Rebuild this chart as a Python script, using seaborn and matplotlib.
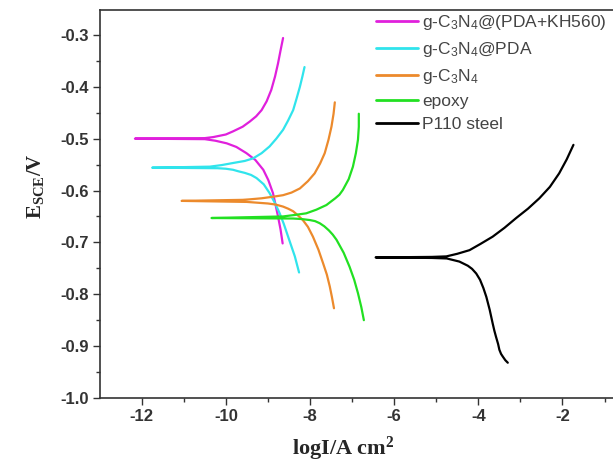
import numpy as np
import pandas as pd
import seaborn as sns
import matplotlib
matplotlib.use("Agg")
import matplotlib.pyplot as plt
from matplotlib.ticker import MultipleLocator

# ---- data ----
labels = ["g-C$_\\mathregular{3}$N$_\\mathregular{4}$@(PDA+KH560)",
          "g-C$_\\mathregular{3}$N$_\\mathregular{4}$@PDA",
          "g-C$_\\mathregular{3}$N$_\\mathregular{4}$",
          "epoxy",
          "P110 steel"]
colors = ["#E020DC", "#30E4EC", "#EC8A2C", "#22E022", "#000000"]

kh560_x = [-8.65, -8.70, -8.76, -8.82, -8.88, -8.99, -9.11, -9.30, -9.51, -9.75, -9.98, -10.25, -10.5, -12.16, -10.5, -10.30, -10.0, -9.83, -9.60, -9.43, -9.28, -9.15, -9.03, -8.92, -8.83, -8.76, -8.70, -8.64]
kh560_y = [-0.702, -0.675, -0.650, -0.627, -0.605, -0.580, -0.560, -0.541, -0.528, -0.516, -0.509, -0.504, -0.501, -0.500, -0.499, -0.497, -0.492, -0.486, -0.477, -0.467, -0.457, -0.445, -0.428, -0.406, -0.380, -0.355, -0.330, -0.306]

pda_x = [-8.26, -8.36, -8.44, -8.52, -8.62, -8.72, -8.84, -8.96, -9.10, -9.27, -9.40, -9.55, -9.70, -9.83, -10.0, -10.2, -11.75, -10.38, -10.1, -9.83, -9.55, -9.35, -9.15, -8.96, -8.80, -8.64, -8.52, -8.40, -8.32, -8.24, -8.18, -8.13]
pda_y = [-0.758, -0.727, -0.708, -0.689, -0.665, -0.644, -0.623, -0.605, -0.588, -0.576, -0.570, -0.566, -0.563, -0.560, -0.558, -0.557, -0.556, -0.554, -0.551, -0.547, -0.543, -0.538, -0.528, -0.515, -0.500, -0.483, -0.465, -0.445, -0.423, -0.400, -0.380, -0.362]

gcn_x = [-7.43, -7.48, -7.53, -7.60, -7.69, -7.80, -7.93, -8.05, -8.17, -8.30, -8.40, -8.52, -8.64, -8.82, -9.00, -9.50, -11.05, -9.60, -9.43, -9.15, -8.88, -8.64, -8.44, -8.24, -8.05, -7.89, -7.76, -7.65, -7.56, -7.49, -7.44, -7.41]
gcn_y = [-0.827, -0.805, -0.785, -0.762, -0.740, -0.714, -0.689, -0.670, -0.657, -0.647, -0.640, -0.635, -0.631, -0.627, -0.625, -0.622, -0.620, -0.618, -0.617, -0.615, -0.612, -0.609, -0.604, -0.596, -0.582, -0.567, -0.548, -0.528, -0.502, -0.477, -0.452, -0.430]

epoxy_x = [-6.72, -6.78, -6.86, -6.95, -7.06, -7.20, -7.37, -7.46, -7.55, -7.66, -7.77, -7.88, -8.00, -8.20, -8.40, -10.34, -8.64, -8.35, -8.09, -7.85, -7.61, -7.40, -7.30, -7.22, -7.08, -6.98, -6.91, -6.86, -6.84, -6.84]
epoxy_y = [-0.850, -0.825, -0.798, -0.772, -0.747, -0.720, -0.695, -0.685, -0.677, -0.669, -0.663, -0.659, -0.657, -0.655, -0.654, -0.653, -0.650, -0.647, -0.644, -0.637, -0.628, -0.615, -0.608, -0.599, -0.578, -0.554, -0.528, -0.502, -0.477, -0.452]

steel_x = [-3.30, -3.36, -3.42, -3.46, -3.50, -3.53, -3.58, -3.62, -3.66, -3.73, -3.81, -3.88, -3.96, -4.05, -4.15, -4.25, -4.45, -4.60, -4.75, -5.10, -6.44, -5.10, -4.76, -4.50, -4.21, -3.95, -3.66, -3.38, -3.10, -2.82, -2.55, -2.30, -2.08, -1.90, -1.74]
steel_y = [-0.932, -0.927, -0.920, -0.915, -0.907, -0.896, -0.882, -0.870, -0.856, -0.830, -0.805, -0.788, -0.772, -0.760, -0.751, -0.745, -0.737, -0.734, -0.731, -0.730, -0.729, -0.728, -0.727, -0.722, -0.715, -0.703, -0.689, -0.672, -0.653, -0.635, -0.615, -0.593, -0.567, -0.540, -0.512]

xs = [kh560_x, pda_x, gcn_x, epoxy_x, steel_x]
ys = [kh560_y, pda_y, gcn_y, epoxy_y, steel_y]

frames = []
for lab, x, y in zip(labels, xs, ys):
    frames.append(pd.DataFrame({"logI": x, "E": y, "sample": lab}))
df = pd.concat(frames, ignore_index=True)

# ---- plot ----
sns.set_style("white")
plt.rcParams["font.family"] = ["Liberation Sans", "DejaVu Sans"]
plt.rcParams["mathtext.default"] = "regular"
plt.rcParams["axes.unicode_minus"] = False

fig = plt.figure(figsize=(6.13, 4.67), dpi=100)
ax = fig.add_axes([100/613, 1 - 398/467, 1 - 100/613, (398 - 10)/467])

sns.lineplot(data=df, x="logI", y="E", hue="sample", hue_order=labels,
             palette=colors, sort=False, estimator=None, units="sample",
             linewidth=1.6, ax=ax, legend=True)

ax.set_xlim(-12.99, -0.80)
ax.set_ylim(-1.0, -0.252)

ax.xaxis.set_minor_locator(MultipleLocator(1))
ax.yaxis.set_minor_locator(MultipleLocator(0.05))
ax.set_xticks([-12, -10, -8, -6, -4, -2])
ax.set_yticks([-1.0, -0.9, -0.8, -0.7, -0.6, -0.5, -0.4, -0.3])
ax.tick_params(axis="both", which="major", direction="out", length=5, width=1.0,
               labelsize=12, colors="#333333", left=True, bottom=True, pad=3)
ax.tick_params(axis="both", which="minor", direction="out", length=3, width=1.0,
               colors="#333333", left=True, bottom=True)
for t in ax.get_xticklabels() + ax.get_yticklabels():
    t.set_fontweight("bold")
    t.set_color("#333333")

for side in ["left", "bottom", "top"]:
    ax.spines[side].set_color("#333333")
    ax.spines[side].set_linewidth(1.2)
ax.spines["right"].set_visible(False)

ax.set_xlabel("logI/A cm$^\\mathregular{2}$", fontfamily="Liberation Serif",
              fontweight="bold", fontsize=16)
ax.xaxis.set_label_coords(0.474, -0.095)
ax.set_ylabel("E$_\\mathregular{SCE}$/V", fontfamily="Liberation Serif",
              fontweight="bold", fontsize=15)
ax.yaxis.set_label_coords(-0.105, 0.545)

leg = ax.legend(loc="upper left", bbox_to_anchor=(0.525, 1.01), frameon=False,
                fontsize=12.5, handlelength=2.4, handletextpad=0.25,
                labelspacing=0.45, borderaxespad=0)
for t in leg.get_texts():
    t.set_color("#444444")
for h in leg.get_lines():
    h.set_linewidth(2.0)

fig.savefig("out.png", dpi=100)
